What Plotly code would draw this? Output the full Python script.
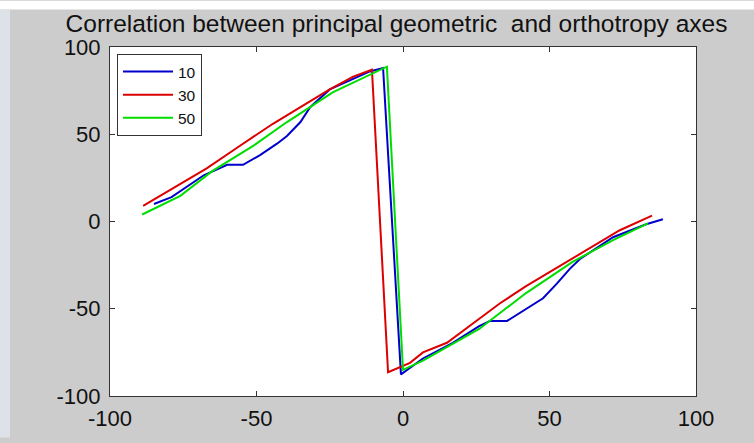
import plotly.graph_objects as go

# ---- data ----
x10 = [-85, -79, -68, -62.5, -60, -54.6, -48.8, -43, -39.6, -35, -31.7, -25, -18, -11.3, -6.8,
       -0.7, 6.8, 17, 26, 29.7, 35.5, 41, 47.8, 52.5, 57, 60.4, 71.7, 83, 88.7]
y10 = [10, 14, 26.5, 30.5, 32.5, 32.5, 38, 44.6, 49, 57, 65.5, 75.7, 81, 86, 88,
       -87.6, -78.5, -69.5, -60, -57, -57, -51.4, -44, -35.6, -27, -21.5, -9, -1.6, 1.3]

x30 = [-88.7, -78, -67, -56, -44.4, -35, -25, -17, -11.3, -10.6, -5.1, -1, 2.4, 6.8, 15, 25,
       33, 42, 50, 58, 66, 74, 85]
y30 = [9, 19.5, 30.5, 43, 56, 65.5, 75.7, 83, 86.4, 87, -86.4, -83.6, -81, -75, -69.5, -57,
       -47, -37, -29, -21.5, -13, -5, 3.4]

x50 = [-89, -76, -65, -51, -39.6, -24, -5.5, 0, 6.8, 26, 42, 58, 71.7, 83.6]
y50 = [4, 14.7, 29, 43.5, 57, 74, 88.7, -85, -79.7, -61.6, -41, -23, -10.7, -1.1]

series_names = ["10", "30", "50"]
series_colors = ["#0000cc", "#dd0000", "#00dd00"]
tick_vals = [-100, -50, 0, 50, 100]
tick_text = ["-100", "-50", "0", "50", "100"]
title_text = "Correlation between principal geometric  and orthotropy axes"

fig = go.Figure()
for name, xs, ys, col in zip(series_names, [x10, x30, x50], [y10, y30, y50], series_colors):
    fig.add_trace(go.Scatter(x=xs, y=ys, mode="lines", name=name,
                             line=dict(color=col, width=2)))

W, H = 754, 443
L, R, T, B = 110, 58, 47, 42
pw, ph = W - L - R, H - T - B

def px_to_paper_x(px):
    return (px - L) / pw

def px_to_paper_y(py):
    return (H - B - py) / ph

axis_common = dict(
    showgrid=False, zeroline=False, showline=True, linecolor="#333333", linewidth=1,
    mirror="allticks", ticks="inside", ticklen=5, tickcolor="#333333",
    tickvals=tick_vals, ticktext=tick_text,
    tickfont=dict(family="Liberation Sans, Arial", size=22, color="#111111"),
)

fig.update_layout(
    width=W, height=H,
    margin=dict(l=L, r=R, t=T, b=B),
    paper_bgcolor="#cccccc", plot_bgcolor="white",
    title=dict(text=title_text, x=396.5 / W, xanchor="center", xref="container",
               y=1 - 23 / H, yanchor="middle", yref="container",
               font=dict(family="Liberation Sans, Arial", size=24.5, color="#111111")),
    xaxis=dict(range=[-100, 100], ticklabelstandoff=3, **axis_common),
    yaxis=dict(range=[-100, 100], ticklabelstandoff=4, **axis_common),
    legend=dict(x=px_to_paper_x(117), y=px_to_paper_y(54), xanchor="left", yanchor="top",
                bgcolor="white", bordercolor="#333333", borderwidth=1,
                font=dict(family="Liberation Sans, Arial", size=15.5, color="#111111"),
                itemwidth=50, tracegroupgap=0),
    showlegend=True,
    shapes=[
        dict(type="rect", xref="paper", yref="paper", layer="above",
             x0=px_to_paper_x(0), x1=px_to_paper_x(W), y0=px_to_paper_y(0), y1=px_to_paper_y(9),
             fillcolor="white", line=dict(width=0)),
        dict(type="rect", xref="paper", yref="paper", layer="above",
             x0=px_to_paper_x(0), x1=px_to_paper_x(10), y0=px_to_paper_y(9), y1=px_to_paper_y(H),
             fillcolor="#dde2e8", line=dict(width=0)),
    ],
)

fig.write_html("out.html")
